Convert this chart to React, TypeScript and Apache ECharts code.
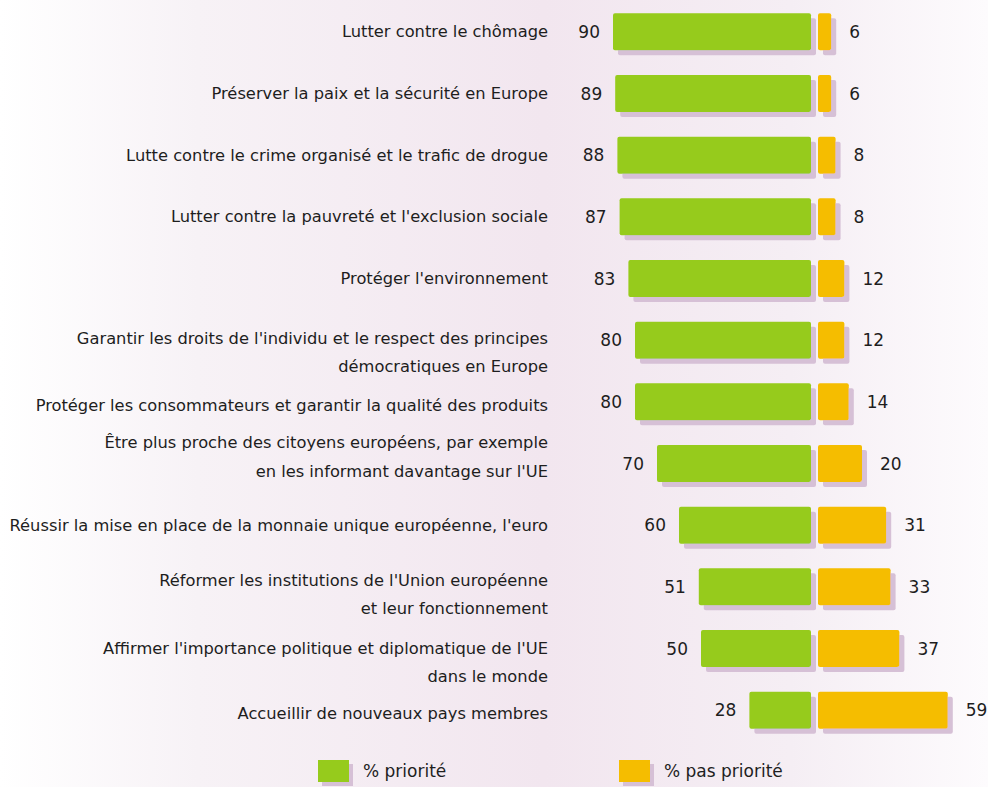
import React, { useEffect, useRef } from "react";
import * as echarts from "echarts";

const categories = [
  "Lutter contre le chômage",
  "Préserver la paix et la sécurité en Europe",
  "Lutte contre le crime organisé et le trafic de drogue",
  "Lutter contre la pauvreté et l'exclusion sociale",
  "Protéger l'environnement",
  "Garantir les droits de l'individu et le respect des principes\ndémocratiques en Europe",
  "Protéger les consommateurs et garantir la qualité des produits",
  "Être plus proche des citoyens européens, par exemple\nen les informant davantage sur l'UE",
  "Réussir la mise en place de la monnaie unique européenne, l'euro",
  "Réformer les institutions de l'Union européenne\net leur fonctionnement",
  "Affirmer l'importance politique et diplomatique de l'UE\ndans le monde",
  "Accueillir de nouveaux pays membres",
];
const priority = [90, 89, 88, 87, 83, 80, 80, 70, 60, 51, 50, 28];
const notPriority = [6, 6, 8, 8, 12, 12, 14, 20, 31, 33, 37, 59];
const seriesNames = ["% priorité", "% pas priorité"];

const GREEN = "#96cb1a";
const ORANGE = "#f5bd00";
const SHADOW = "#d6c0d6";
const FONT = "DejaVu Sans";
const TEXT = "#1e1e1e";
const LABEL_SIZE = 16.3;

// per-line text styling of each category label: [lineHeight, verticalAlign]
const M: [number, string] = [28, "middle"];
const labelLines: [number, string][][] = [
  [M],
  [M],
  [M],
  [M],
  [M],
  [[52, "bottom"], [40, "middle"]],
  [[24, "bottom"]],
  [[42, "middle"], [42, "top"]],
  [M],
  [[44, "bottom"], [40, "middle"]],
  [[56, "bottom"], [40, "middle"]],
  [[22, "bottom"]],
];

export default function App() {
  const ref = useRef<HTMLDivElement>(null);
  useEffect(() => {
    document.body.style.margin = "0";
    const chart = echarts.init(ref.current!, null, { renderer: "svg" });
    const shadow = {
      shadowColor: SHADOW,
      shadowBlur: 0,
      shadowOffsetX: 5,
      shadowOffsetY: 5,
    };
    const base = { fontSize: LABEL_SIZE, color: TEXT, fontFamily: FONT };
    const rich: Record<string, any> = {};
    categories.forEach((c, i) => {
      c.split("\n").forEach((_, j) => {
        const [lh, va] = labelLines[i][j] || M;
        rich[`r${i}_${j}`] = { ...base, lineHeight: lh, verticalAlign: va };
      });
    });
    const legendCommon = {
      top: 760,
      padding: 0,
      itemWidth: 31,
      itemHeight: 22,
      icon: "rect",
      itemStyle: { ...shadow, shadowOffsetX: 4, shadowOffsetY: 4 },
      textStyle: {
        fontSize: 17,
        color: TEXT,
        fontFamily: FONT,
        padding: [9, 0, 0, 9],
      },
    };
    chart.setOption({
      animation: false,
      backgroundColor: new echarts.graphic.LinearGradient(0, 0, 1, 0, [
        { offset: 0, color: "#ffffff" },
        { offset: 0.2, color: "#f7f2f6" },
        { offset: 0.55, color: "#f2e6ef" },
        { offset: 0.8, color: "#f5eef4" },
        { offset: 1, color: "#fdfbfd" },
      ]),
      textStyle: { fontFamily: FONT },
      grid: [
        { left: 591, width: 220, top: 1, height: 740, outerBoundsMode: "none", containLabel: false },
        { left: 818, width: 154, top: 1, height: 740, outerBoundsMode: "none", containLabel: false },
      ],
      xAxis: [
        { type: "value", gridIndex: 0, min: 0, max: 100, inverse: true, show: false },
        { type: "value", gridIndex: 1, min: 0, max: 70, show: false },
      ],
      yAxis: [
        {
          type: "category",
          gridIndex: 0,
          inverse: true,
          data: categories,
          axisLine: { show: false },
          axisTick: { show: false },
          axisLabel: {
            margin: 43,
            ...base,
            lineHeight: 28,
            formatter: (value: string, index: number) =>
              value
                .split("\n")
                .map((line, j) => `{r${index}_${j}|${line}}`)
                .join("\n"),
            rich,
          },
        },
        {
          type: "category",
          gridIndex: 1,
          inverse: true,
          data: categories,
          show: false,
        },
      ],
      legend: [
        { ...legendCommon, data: [seriesNames[0]], left: 318 },
        { ...legendCommon, data: [seriesNames[1]], left: 619 },
      ],
      series: [
        {
          name: seriesNames[0],
          type: "bar",
          xAxisIndex: 0,
          yAxisIndex: 0,
          data: priority,
          barWidth: 37,
          itemStyle: { color: GREEN, borderRadius: 2, ...shadow },
          label: {
            show: true,
            position: "left",
            distance: 13,
            fontSize: 17,
            color: TEXT,
            fontFamily: FONT,
          },
        },
        {
          name: seriesNames[1],
          type: "bar",
          xAxisIndex: 1,
          yAxisIndex: 1,
          data: notPriority,
          barWidth: 37,
          itemStyle: { color: ORANGE, borderRadius: 2, ...shadow },
          label: {
            show: true,
            position: "right",
            distance: 18,
            fontSize: 17,
            color: TEXT,
            fontFamily: FONT,
          },
        },
      ],
    });
    return () => chart.dispose();
  }, []);
  return <div ref={ref} style={{ width: 988, height: 787 }} />;
}
